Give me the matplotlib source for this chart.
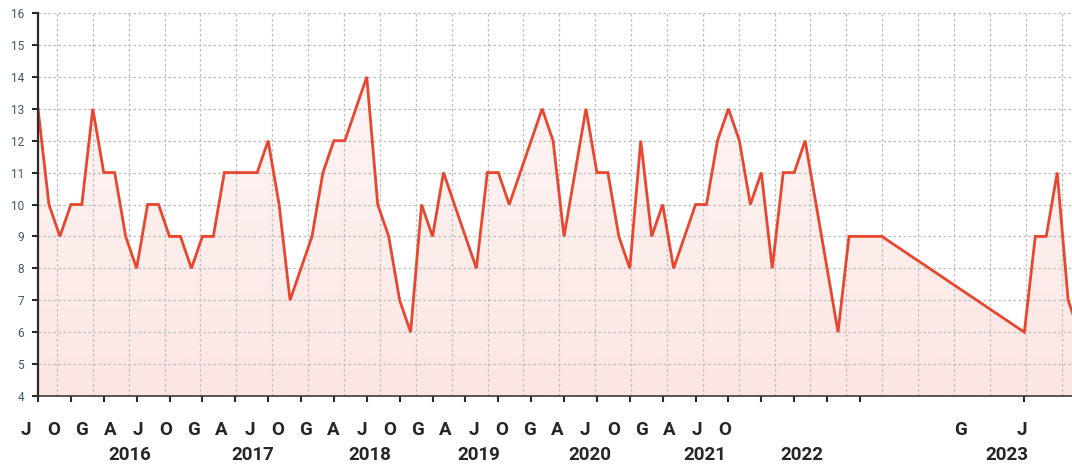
import numpy as np
import matplotlib.pyplot as plt
from matplotlib.transforms import blended_transform_factory

# -------------------------------
# Data (monthly index from the first point, gap in 2022)
# -------------------------------
month_idx = list(range(0, 78)) + [90, 91, 92, 93, 94, 95]
values = [13, 10, 9, 10, 10, 13, 11, 11, 9, 8,
          10, 10, 9, 9, 8, 9, 9, 11, 11, 11,
          11, 12, 10, 7, 8, 9, 11, 12, 12, 13,
          14, 10, 9, 7, 6, 10, 9, 11, 10, 9,
          8, 11, 11, 10, 11, 12, 13, 12, 9, 11,
          13, 11, 11, 9, 8, 12, 9, 10, 8, 9,
          10, 10, 12, 13, 12, 10, 11, 8, 11, 11,
          12, 10, 8, 6, 9, 9, 9, 9,
          6, 9, 9, 11, 7, 6]

tick_idx = list(range(0, 76, 3)) + [90]
month_labels = ["J", "O"] + ["G", "A", "J", "O"] * 6 + ["G", "J"]
year_labels = ["2016", "2017", "2018", "2019", "2020", "2021", "2022", "2023"]

# label layout (data units along the x axis)
month_pos = list(np.linspace(-1.1, 62.7, 26)) + [84.2, 89.8]
year_pos = [8.4, 19.6, 30.3, 40.2, 50.4, 60.8, 69.7, 88.4]

line_color = "#e8462f"
x_max = 94.35

# -------------------------------
# Figure
# -------------------------------
fig = plt.figure(figsize=(10.72, 4.66), dpi=100)
ax = fig.add_axes([38 / 1072, 70 / 466, 1 - 38 / 1072, 383 / 466])
ax.set_xlim(0, x_max)
ax.set_ylim(4, 16)

# gradient area under the line
poly = ax.fill_between(month_idx, values, 4, color="none", lw=0)
grad = np.zeros((100, 2, 4))
grad[..., 0] = 232 / 255
grad[..., 1] = 74 / 255
grad[..., 2] = 53 / 255
grad[..., 3] = np.linspace(0.04, 0.14, 100)[:, None]
im = ax.imshow(grad, extent=[0, x_max, 4, 16], aspect="auto",
               origin="upper", zorder=1, interpolation="bilinear")
im.set_clip_path(poly.get_paths()[0], transform=ax.transData)

# grid
ax.set_yticks(range(4, 17))
for y in range(5, 17):
    ax.axhline(y, color="#bdbdbd", lw=0.9, ls=(0, (2, 2)), zorder=2)
for gx in np.arange(1.73, x_max, 3.274):
    ax.axvline(gx, color="#bdbdbd", lw=0.9, ls=(0, (2, 2)), zorder=2)

ax.plot(month_idx, values, color=line_color, lw=2, zorder=3,
        solid_joinstyle="miter", clip_on=True)

# spines / ticks
for s in ["top", "right"]:
    ax.spines[s].set_visible(False)
ax.spines["left"].set_color("#2b2b2b")
ax.spines["left"].set_linewidth(1.6)
ax.spines["bottom"].set_color("#3a3a3a")
ax.spines["bottom"].set_linewidth(1.2)
ax.spines["bottom"].set_linestyle((0, (2, 1)))
ax.spines["left"].set_zorder(4)

ax.set_xticks(tick_idx)
ax.set_xticklabels([])
ax.tick_params(axis="x", length=4, width=1.5, color="#2b2b2b", direction="out")
ax.tick_params(axis="y", length=4, width=1.5, color="#2b2b2b", direction="out",
               labelsize=8.5, labelcolor="#3e5873", pad=6)
for lab in ax.get_yticklabels():
    lab.set_fontfamily("Roboto")

trans = blended_transform_factory(ax.transData, ax.transAxes)
for pos, lab in zip(month_pos, month_labels):
    ax.text(pos, -0.089, lab, transform=trans, ha="center", va="center",
            fontsize=13.5, fontweight="bold", family="Roboto", color="#262626",
            clip_on=False)
for pos, lab in zip(year_pos, year_labels):
    ax.text(pos, -0.155, lab, transform=trans, ha="center", va="center",
            fontsize=13.5, fontweight="bold", family="Roboto", color="#262626",
            clip_on=False)

fig.savefig("out.png", dpi=100)
